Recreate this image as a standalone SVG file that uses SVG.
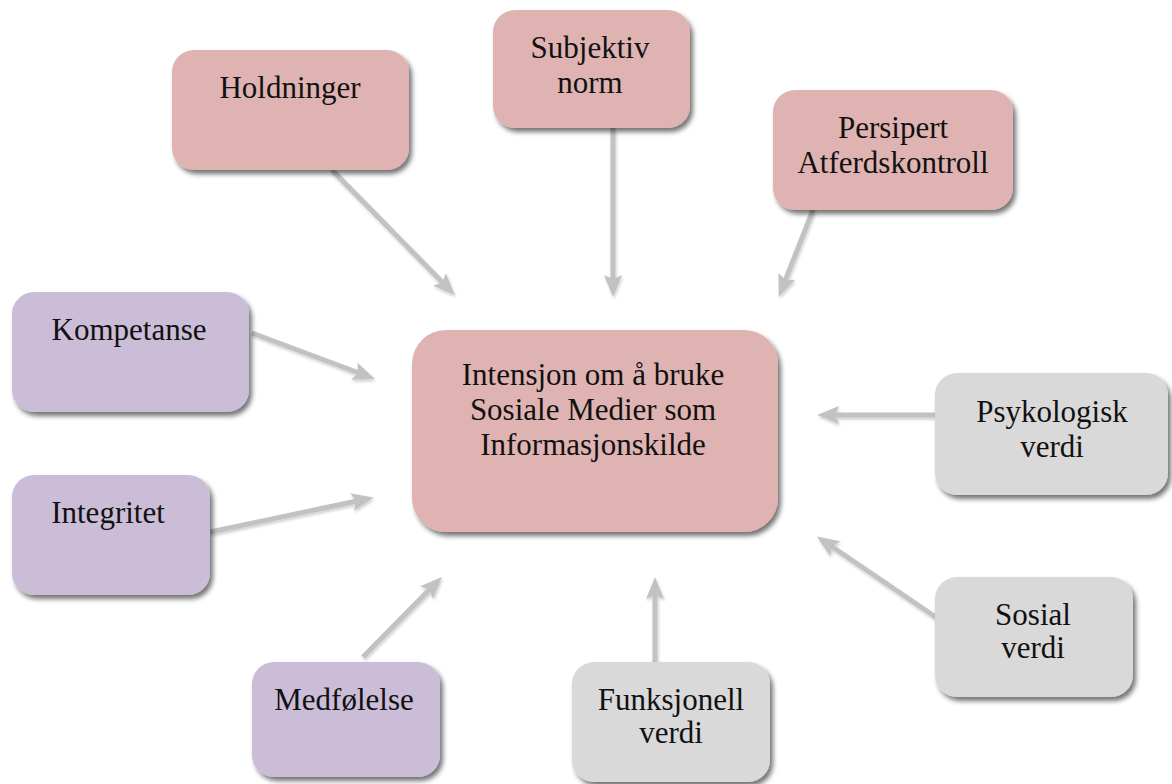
<svg xmlns="http://www.w3.org/2000/svg" width="1172" height="784" viewBox="0 0 1172 784">
<style>
.box{stroke:none;filter:url(#sh)}
.pink{fill:#e0b3b3}
.purple{fill:#cbbdd8}
.grey{fill:#d9d9d9}
text{font-family:"Liberation Serif","Times New Roman",serif;font-size:31px;fill:#111;text-anchor:middle}
.conn line{stroke:#c2c2c2;stroke-width:5;marker-end:url(#ah)}
</style>
<defs>
<filter id="sh" x="-10%" y="-10%" width="125%" height="130%">
<feGaussianBlur in="SourceAlpha" stdDeviation="2.5"/>
<feOffset dx="3" dy="4" result="b"/>
<feComponentTransfer><feFuncA type="linear" slope="0.55"/></feComponentTransfer>
<feMerge><feMergeNode/><feMergeNode in="SourceGraphic"/></feMerge>
</filter>
<filter id="ash" x="-20%" y="-20%" width="140%" height="140%">
<feGaussianBlur in="SourceAlpha" stdDeviation="1.5"/>
<feOffset dx="1" dy="2"/>
<feComponentTransfer><feFuncA type="linear" slope="0.2"/></feComponentTransfer>
<feMerge><feMergeNode/><feMergeNode in="SourceGraphic"/></feMerge>
</filter>
<marker id="ah" viewBox="0 0 22 20" markerWidth="22" markerHeight="20" refX="5" refY="10" orient="auto" markerUnits="userSpaceOnUse">
<path d="M0,1 L22,10 L0,19 L4,10 z" fill="#c2c2c2"/>
</marker>
</defs>

<g id="connectors" class="conn" filter="url(#ash)">
<line x1="332" y1="170" x2="443" y2="283"/>
<line x1="613" y1="128" x2="613" y2="280"/>
<line x1="813" y1="210" x2="785" y2="281"/>
<line x1="252" y1="333" x2="359" y2="373"/>
<line x1="210" y1="532" x2="357" y2="501"/>
<line x1="363" y1="657" x2="430" y2="589"/>
<line x1="655" y1="662" x2="655" y2="594"/>
<line x1="937" y1="618" x2="831" y2="546"/>
<line x1="935" y1="415" x2="834" y2="415"/>
</g>

<g id="holdninger">
<rect class="box pink" x="172" y="50" width="237" height="120" rx="22"/>
<text x="290" y="98">Holdninger</text>
</g>
<g id="subjektiv-norm">
<rect class="box pink" x="493" y="10" width="197" height="118" rx="22"/>
<text x="590" y="58">Subjektiv</text>
<text x="590" y="93">norm</text>
</g>
<g id="persipert-atferdskontroll">
<rect class="box pink" x="773" y="90" width="240" height="120" rx="22"/>
<text x="893" y="138">Persipert</text>
<text x="893" y="173">Atferdskontroll</text>
</g>
<g id="intensjon">
<rect class="box pink" x="412" y="330" width="366" height="202" rx="34"/>
<text x="593" y="385">Intensjon om å bruke</text>
<text x="593" y="420">Sosiale Medier som</text>
<text x="593" y="455">Informasjonskilde</text>
</g>
<g id="kompetanse">
<rect class="box purple" x="12" y="292" width="237" height="120" rx="22"/>
<text x="129" y="340">Kompetanse</text>
</g>
<g id="integritet">
<rect class="box purple" x="12" y="475" width="198" height="120" rx="22"/>
<text x="108" y="523">Integritet</text>
</g>
<g id="medfolelse">
<rect class="box purple" x="252" y="662" width="188" height="115" rx="22"/>
<text x="344" y="710">Medfølelse</text>
</g>
<g id="funksjonell-verdi">
<rect class="box grey" x="572" y="662" width="198" height="120" rx="22"/>
<text x="671" y="710">Funksjonell</text>
<text x="671" y="743">verdi</text>
</g>
<g id="sosial-verdi">
<rect class="box grey" x="935" y="577" width="198" height="120" rx="22"/>
<text x="1033" y="625">Sosial</text>
<text x="1033" y="658">verdi</text>
</g>
<g id="psykologisk-verdi">
<rect class="box grey" x="935" y="373" width="233" height="122" rx="22"/>
<text x="1052" y="422">Psykologisk</text>
<text x="1052" y="457">verdi</text>
</g>
</svg>
